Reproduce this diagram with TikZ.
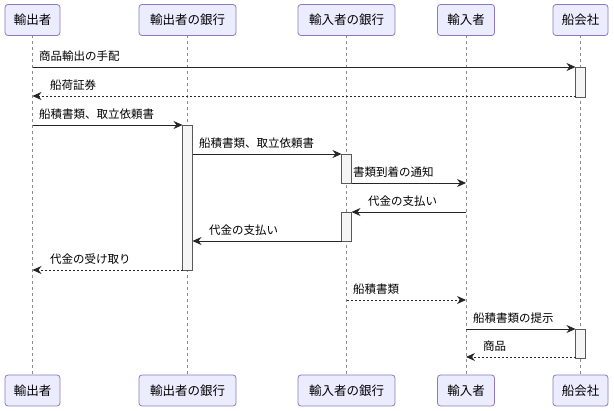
\documentclass[tikz,border=0pt]{standalone}
\usepackage{fontspec}
\setmainfont{Noto Sans CJK JP}
\usetikzlibrary{arrows.meta}
\begin{document}
\begin{tikzpicture}[x=1pt,y=-1pt,
  actor/.style={draw={rgb,255:red,140;green,120;blue,190}, fill={rgb,255:red,236;green,236;blue,255}, rounded corners=3pt, minimum height=31pt, inner sep=5pt, line width=0.8pt, font=\fontsize{12.5}{14}\selectfont},
  life/.style={draw=black!45, dash pattern=on 3pt off 3pt, line width=0.5pt},
  act/.style={draw=black!65, fill=black!4, line width=0.7pt},
  msg/.style={draw=black!85, line width=0.8pt, -{Stealth[length=9pt,width=8pt]}},
  rmsg/.style={msg, dash pattern=on 2pt off 2pt},
  lbl/.style={font=\fontsize{11.5}{13}\selectfont, anchor=south west, inner sep=1pt}]
\useasboundingbox (0,0) rectangle (614,411);
\foreach \n/\x/\w/\t in {a/32.5/55/輸出者, b/187.5/97/輸出者の銀行, c/346.5/97/輸入者の銀行, d/466/57/輸入者, e/580.5/55/船会社}{
  \draw[life] (\x,35) -- (\x,375);
  \node[actor, minimum width=\w pt] (\n top) at (\x,20) {\t};
  \node[actor, minimum width=\w pt] (\n bot) at (\x,390.5) {\t};
}
% activations
\draw[act] (575.5,67) rectangle (585.5,97);
\draw[act] (182.5,125) rectangle (192.5,270);
\draw[act] (341.5,154) rectangle (351.5,183);
\draw[act] (341.5,212) rectangle (351.5,241);
\draw[act] (575.5,329) rectangle (585.5,358);
\coordinate (m1s) at (32.5,67); \coordinate (m1e) at (575.5,67);
\draw[msg] (m1s) -- (m1e); \node[lbl] at (38,63) {商品輸出の手配};
\coordinate (m2s) at (575.5,96); \coordinate (m2e) at (32.5,96);
\draw[rmsg] (m2s) -- (m2e); \node[lbl] at (49,92) {船荷証券};
\coordinate (m3s) at (32.5,125); \coordinate (m3e) at (182.5,125);
\draw[msg] (m3s) -- (m3e); \node[lbl] at (38,121) {船積書類、取立依頼書};
\coordinate (m4s) at (192.5,154); \coordinate (m4e) at (341.5,154);
\draw[msg] (m4s) -- (m4e); \node[lbl] at (198,150) {船積書類、取立依頼書};
\coordinate (m5s) at (351.5,183); \coordinate (m5e) at (466,183);
\draw[msg] (m5s) -- (m5e); \node[lbl] at (352,179) {書類到着の通知};
\coordinate (m6s) at (466,212); \coordinate (m6e) at (351.5,212);
\draw[msg] (m6s) -- (m6e); \node[lbl] at (367,208) {代金の支払い};
\coordinate (m7s) at (341.5,241); \coordinate (m7e) at (192.5,241);
\draw[msg] (m7s) -- (m7e); \node[lbl] at (208,237) {代金の支払い};
\coordinate (m8s) at (182.5,270); \coordinate (m8e) at (32.5,270);
\draw[rmsg] (m8s) -- (m8e); \node[lbl] at (49,266) {代金の受け取り};
\coordinate (m9s) at (346.5,300); \coordinate (m9e) at (466,300);
\draw[rmsg] (m9s) -- (m9e); \node[lbl] at (352,296) {船積書類};
\coordinate (m10s) at (466,329); \coordinate (m10e) at (575.5,329);
\draw[msg] (m10s) -- (m10e); \node[lbl] at (472,325) {船積書類の提示};
\coordinate (m11s) at (575.5,357); \coordinate (m11e) at (466,357);
\draw[rmsg] (m11s) -- (m11e); \node[lbl] at (482,353) {商品};
\end{tikzpicture}
\end{document}
